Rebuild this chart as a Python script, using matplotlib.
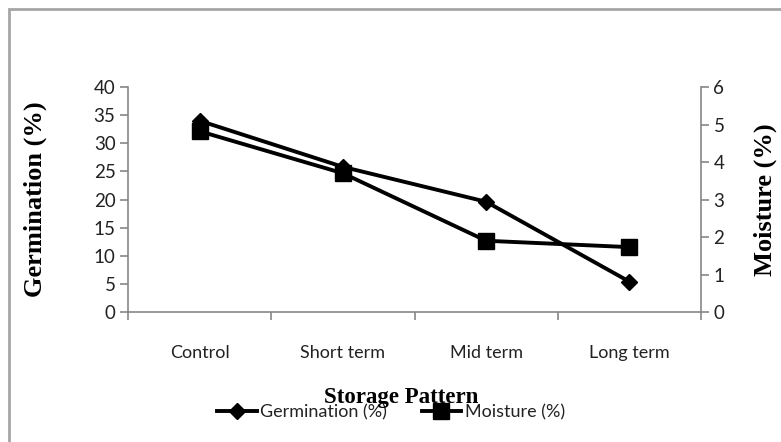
import matplotlib.pyplot as plt
from matplotlib.patches import Rectangle
import numpy as np

# data
categories = ['Control', 'Short term', 'Mid term', 'Long term']
germination = [34.0, 25.8, 19.6, 5.4]
moisture = [4.82, 3.70, 1.90, 1.73]

tick_font = 'Lato'
label_font = 'Liberation Serif'
axis_gray = '#868686'

fig = plt.figure(figsize=(7.81, 4.42), dpi=100)
ax = fig.add_axes([128/781, 1 - 312/442, 573/781, 225/442])
ax2 = ax.twinx()

x = np.arange(len(categories))

ax.plot(x, germination, color='black', linewidth=2.8, marker='D',
        markersize=8.5, label='Germination (%)', zorder=3)
ax2.plot(x, moisture, color='black', linewidth=2.8, marker='s',
         markersize=12, label='Moisture (%)', zorder=3)

ax.set_xlim(-0.5, len(categories) - 0.5)
ax.set_ylim(0, 40)
ax2.set_ylim(0, 6)
ax.set_yticks(np.arange(0, 41, 5))
ax2.set_yticks(np.arange(0, 7, 1))

# category boundaries as ticks, labels in between
ax.set_xticks(np.arange(-0.5, len(categories), 1.0))
ax.set_xticklabels([])
ax.set_xticks(x, minor=True)
ax.set_xticklabels(categories, minor=True, fontsize=13, family=tick_font)
ax.tick_params(axis='x', which='minor', length=0, pad=24)
ax.tick_params(axis='x', which='major', length=6, color=axis_gray, width=1.2)
ax.tick_params(axis='y', length=6, color=axis_gray, width=1.2, labelsize=13.5, pad=3)
ax2.tick_params(axis='y', length=6, color=axis_gray, width=1.2, labelsize=13.5, pad=3)
for lab in ax.get_yticklabels() + ax2.get_yticklabels():
    lab.set_family(tick_font)
    lab.set_color('#222222')
for lab in ax.get_xticklabels(minor=True):
    lab.set_color('#222222')

for a in (ax, ax2):
    a.spines['top'].set_visible(False)
    for s in ('left', 'right', 'bottom'):
        a.spines[s].set_color(axis_gray)
        a.spines[s].set_linewidth(1.2)
ax.spines['right'].set_visible(False)
ax2.spines['left'].set_visible(False)
ax2.spines['bottom'].set_visible(False)

ax.set_ylabel('Germination (%)', fontsize=19, fontweight='bold', family=label_font,
              va='center', ha='center')
ax.yaxis.set_label_coords(-0.162, 0.5)
ax2.set_ylabel('Moisture (%)', fontsize=19, fontweight='bold', family=label_font,
               va='center', ha='center', rotation=90)
ax2.yaxis.set_label_coords(1.112, 0.5)

fig.text(401/781, 1 - 398/442, 'Storage Pattern', fontsize=16.5, fontweight='bold',
         family=label_font, ha='center', va='center', zorder=5)

h1, l1 = ax.get_legend_handles_labels()
h2, l2 = ax2.get_legend_handles_labels()
leg = fig.legend(h1 + h2, l1 + l2, loc='center', bbox_to_anchor=(391/781, 1 - 412/442),
                 ncol=2, frameon=False, handlelength=2.2, handletextpad=0.2,
                 columnspacing=1.9, prop={'family': tick_font, 'size': 13})
leg.set_zorder(1)
for t in leg.get_texts():
    t.set_color('#222222')

# outer chart border
fig.patches.append(Rectangle((9/781, -0.1), 1.2, 1 - 9/442 + 0.1, transform=fig.transFigure,
                             fill=False, edgecolor='#a6a6a6', linewidth=2))

fig.savefig('out.png', dpi=100)
